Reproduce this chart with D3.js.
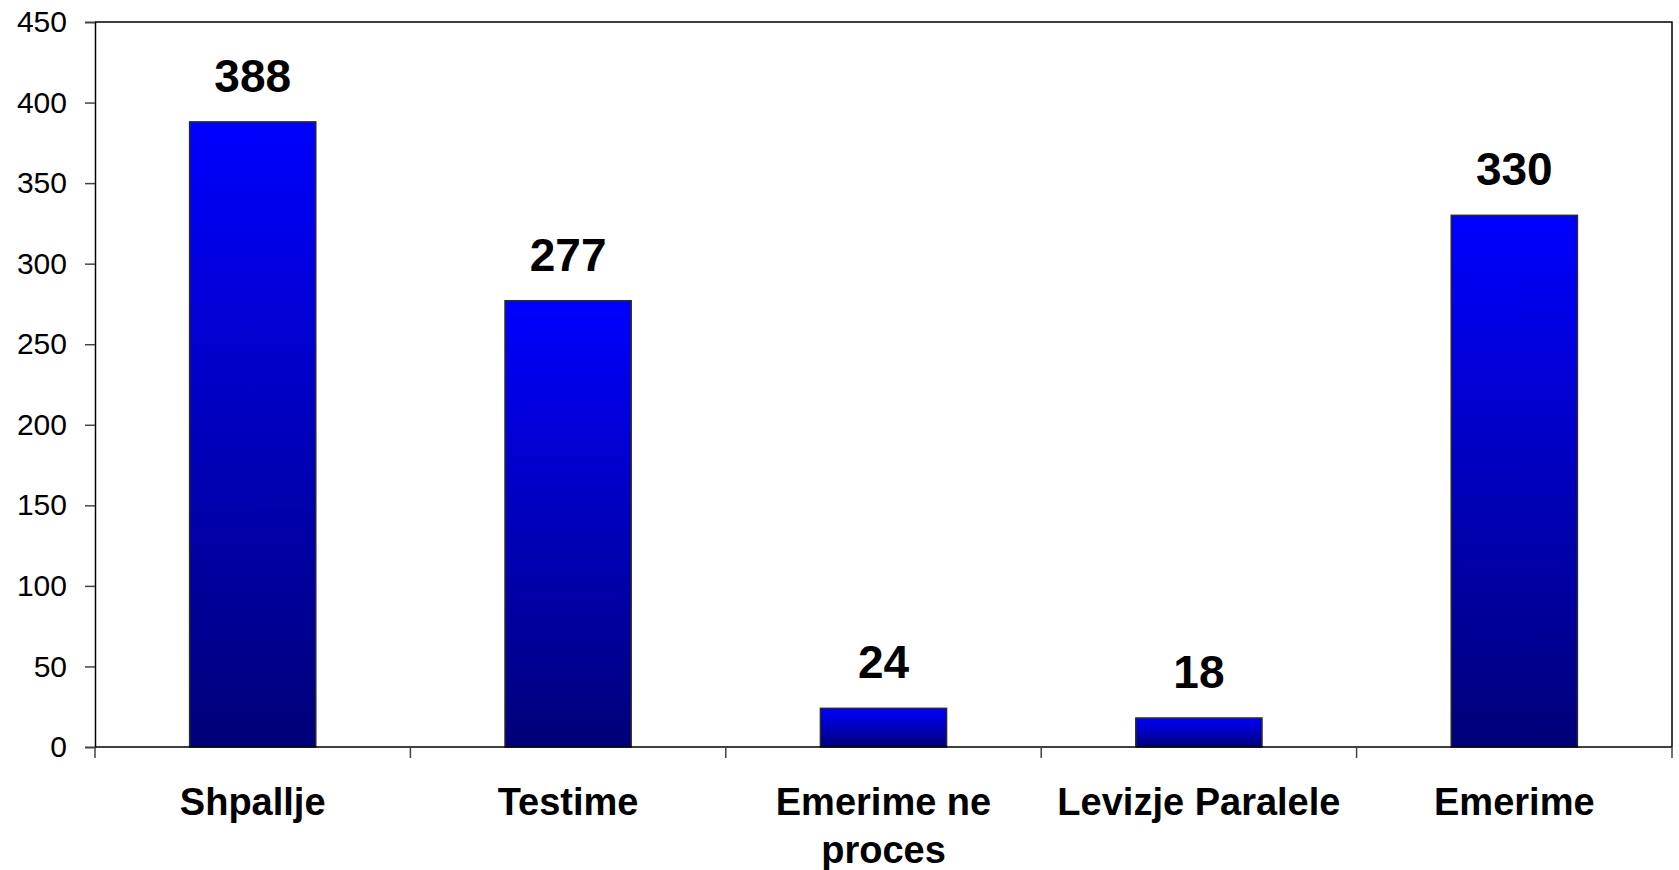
<!DOCTYPE html>
<html>
<head>
<meta charset="utf-8">
<script src="https://d3js.org/d3.v7.min.js"></script>
<style>
    body { margin: 0; background: #ffffff; }
    svg { display: block; }
</style>
</head>
<body>
<div id="chart"></div>
<script>
var categories = ["Shpallje", "Testime", "Emerime ne proces", "Levizje Paralele", "Emerime"];
var values = [388, 277, 24, 18, 330];
var yTicks = [0, 50, 100, 150, 200, 250, 300, 350, 400, 450];

var width = 1679, height = 870;
var plotLeft = 95, plotRight = 1672, plotTop = 22, plotBottom = 747;
var font = "Arial, 'Liberation Sans', sans-serif";

var svg = d3.select("#chart").append("svg")
    .attr("width", width)
    .attr("height", height)
    .style("background-color", "white");

var grad = svg.append("defs").append("linearGradient")
    .attr("id", "barGrad")
    .attr("x1", 0).attr("y1", 0)
    .attr("x2", 0).attr("y2", 1);
grad.append("stop").attr("offset", "0%").attr("stop-color", "#0000ff");
grad.append("stop").attr("offset", "100%").attr("stop-color", "#000078");

var x = d3.scaleBand()
    .domain(categories)
    .range([plotLeft, plotRight])
    .paddingInner(0)
    .paddingOuter(0);

var y = d3.scaleLinear()
    .domain([0, 450])
    .range([plotBottom, plotTop]);

var barW = x.bandwidth() * 0.4;

// plot area border (top and right)
svg.append("path")
    .attr("d", "M" + plotLeft + "," + plotTop + "H" + plotRight + "V" + plotBottom)
    .attr("fill", "none")
    .attr("stroke", "#000")
    .attr("stroke-width", 1.5);

// bars
svg.append("g")
    .attr("class", "bars")
    .selectAll("rect")
    .data(values)
    .enter()
    .append("rect")
    .attr("x", function(d, i) { return x(categories[i]) + (x.bandwidth() - barW) / 2; })
    .attr("y", function(d) { return y(d); })
    .attr("width", barW)
    .attr("height", function(d) { return y(0) - y(d); })
    .attr("fill", "url(#barGrad)")
    .attr("stroke", "#2a2a2a")
    .attr("stroke-width", 1.5);

// y axis
var yAxis = svg.append("g")
    .attr("transform", "translate(" + plotLeft + ",0)")
    .call(d3.axisLeft(y).tickValues(yTicks).tickSize(10).tickPadding(18));
yAxis.select(".domain").attr("stroke", "#000").attr("stroke-width", 1.5);
yAxis.selectAll(".tick line").attr("stroke", "#444").attr("stroke-width", 1.5);
yAxis.selectAll("text")
    .style("font-family", font)
    .style("font-size", "30px")
    .attr("fill", "#000");

// x axis
var xAxis = svg.append("g")
    .attr("transform", "translate(0," + plotBottom + ")");
xAxis.append("line")
    .attr("x1", plotLeft).attr("x2", plotRight)
    .attr("y1", 0).attr("y2", 0)
    .attr("stroke", "#000")
    .attr("stroke-width", 1.5);
xAxis.selectAll("line.tick")
    .data(categories.concat([null]))
    .enter()
    .append("line")
    .attr("class", "tick")
    .attr("x1", function(d) { return d === null ? plotRight : x(d); })
    .attr("x2", function(d) { return d === null ? plotRight : x(d); })
    .attr("y1", 0).attr("y2", 11)
    .attr("stroke", "#444")
    .attr("stroke-width", 1.5);

// category labels
var catLabels = svg.append("g")
    .attr("class", "categories")
    .selectAll("text")
    .data(categories)
    .enter()
    .append("text")
    .attr("text-anchor", "middle")
    .style("font-family", font)
    .style("font-weight", "bold")
    .style("font-size", "38px")
    .attr("fill", "#000")
    .attr("x", function(d) { return x(d) + x.bandwidth() / 2; })
    .attr("y", 815);

catLabels.each(function(d) {
    var el = d3.select(this);
    var lines = d === "Emerime ne proces" ? ["Emerime ne", "proces"] : [d];
    lines.forEach(function(t, k) {
        el.append("tspan")
            .attr("x", x(d) + x.bandwidth() / 2)
            .attr("dy", k === 0 ? 0 : 48)
            .text(t);
    });
});

// value labels
svg.append("g")
    .attr("class", "values")
    .selectAll("text")
    .data(values)
    .enter()
    .append("text")
    .attr("text-anchor", "middle")
    .style("font-family", font)
    .style("font-weight", "bold")
    .style("font-size", "46px")
    .attr("fill", "#000")
    .attr("x", function(d, i) { return x(categories[i]) + x.bandwidth() / 2; })
    .attr("y", function(d) { return y(d) - 30; })
    .text(function(d) { return d; });
</script>
</body>
</html>
